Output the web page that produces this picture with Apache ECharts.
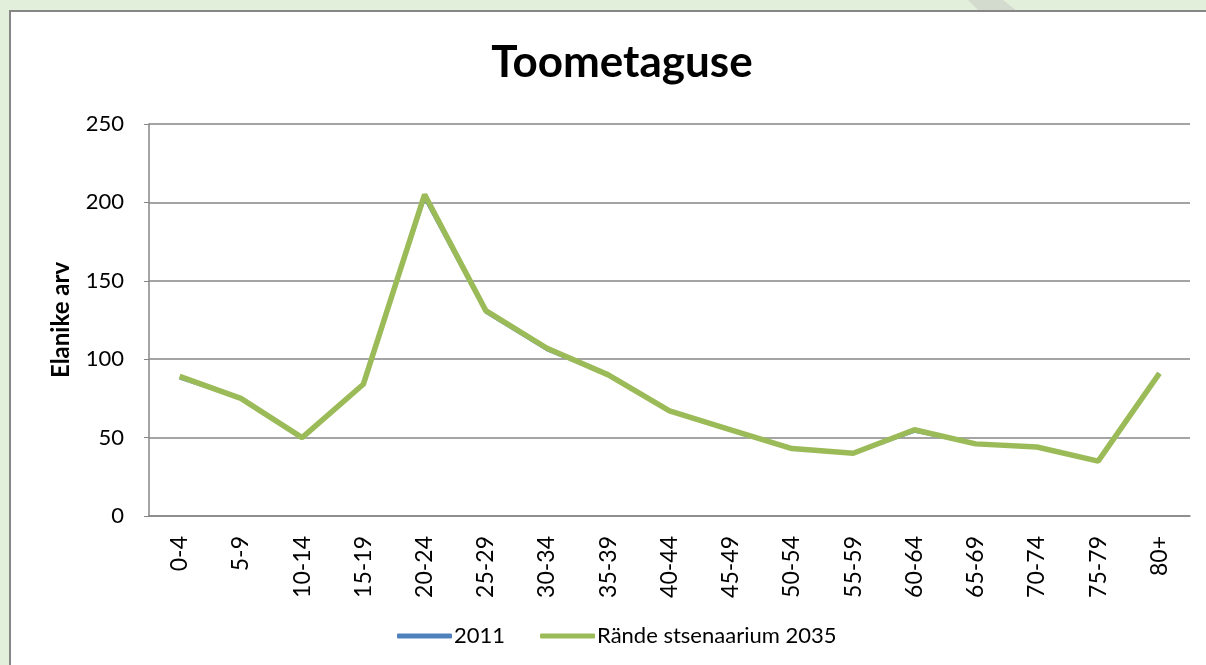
<!DOCTYPE html>
<html>
<head>
<meta charset="utf-8">
<script src="https://cdn.jsdelivr.net/npm/echarts@6/dist/echarts.min.js"></script>
<style>
  html, body { margin: 0; padding: 0; background: #e2efda; }
  #chart { width: 1206px; height: 665px; }
</style>
</head>
<body>
<div id="chart"></div>
<script>
// age groups on the x axis
var ageGroups = ['0-4', '5-9', '10-14', '15-19', '20-24', '25-29', '30-34', '35-39', '40-44',
  '45-49', '50-54', '55-59', '60-64', '65-69', '70-74', '75-79', '80+']

// population counts
var pop2011 = [88, 75, 50, 84, 203, 130, 106, 90, 67, 55, 43, 40, 54, 46, 44, 35, 91]
var pop2035 = [89, 75, 50, 84, 205, 131, 107, 90, 67, 55, 43, 40, 55, 46, 44, 35, 91]

var seriesNames = ['2011', 'Rände stsenaarium 2035']
var yTicks = { min: 0, max: 250, interval: 50 }

var font = 'Lato, "Open Sans", sans-serif'
var chart = echarts.init(document.getElementById('chart'))

chart.setOption({
  animation: false,
  backgroundColor: 'transparent',
  graphic: [
    {
      type: 'polygon',
      z: -20,
      shape: { points: [[968, 0], [1003, 0], [1017, 11], [979, 11]] },
      style: { fill: '#d3dbce' }
    },
    {
      type: 'rect',
      z: -10,
      shape: { x: 10, y: 11, width: 1300, height: 800 },
      style: { fill: '#ffffff', stroke: '#868686', lineWidth: 2 }
    }
  ],
  title: {
    text: 'Toometaguse',
    left: 617,
    top: 36,
    textAlign: 'center',
    textStyle: { fontFamily: font, fontSize: 44, fontWeight: 'bold', color: '#000' }
  },
  legend: {
    bottom: 13,
    left: 392,
    itemWidth: 55,
    itemHeight: 5,
    itemGap: 35,
    icon: 'roundRect',
    textStyle: { fontFamily: font, fontSize: 22, color: '#000', padding: [0, 0, 0, -3] },
    data: seriesNames
  },
  grid: {
    left: 149,
    right: 16,
    top: 124,
    bottom: 149,
    containLabel: false
  },
  xAxis: {
    type: 'category',
    data: ageGroups,
    boundaryGap: true,
    axisLine: { lineStyle: { color: '#868686', width: 1.5 } },
    axisTick: { show: false },
    axisLabel: {
      rotate: 90,
      margin: 20,
      interval: 0,
      fontFamily: font,
      fontSize: 23,
      color: '#000'
    }
  },
  yAxis: {
    type: 'value',
    min: yTicks.min,
    max: yTicks.max,
    interval: yTicks.interval,
    name: 'Elanike arv',
    nameLocation: 'middle',
    nameGap: 76,
    nameTextStyle: { fontFamily: font, fontSize: 24, fontWeight: 'bold', color: '#000' },
    axisLine: { show: true, lineStyle: { color: '#868686', width: 1.5 } },
    axisTick: { show: true, length: 5, lineStyle: { color: '#868686' } },
    axisLabel: { margin: 25, fontFamily: font, fontSize: 22, color: '#000' },
    splitLine: { lineStyle: { color: '#868686', width: 1.5 } }
  },
  series: [
    {
      name: seriesNames[0],
      type: 'line',
      data: pop2011,
      symbol: 'none',
      color: '#4f81bd',
      lineStyle: { color: '#4f81bd', width: 3 }
    },
    {
      name: seriesNames[1],
      type: 'line',
      data: pop2035,
      symbol: 'none',
      color: '#9bbb59',
      lineStyle: { color: '#9bbb59', width: 5.5 }
    }
  ]
})
</script>
</body>
</html>
